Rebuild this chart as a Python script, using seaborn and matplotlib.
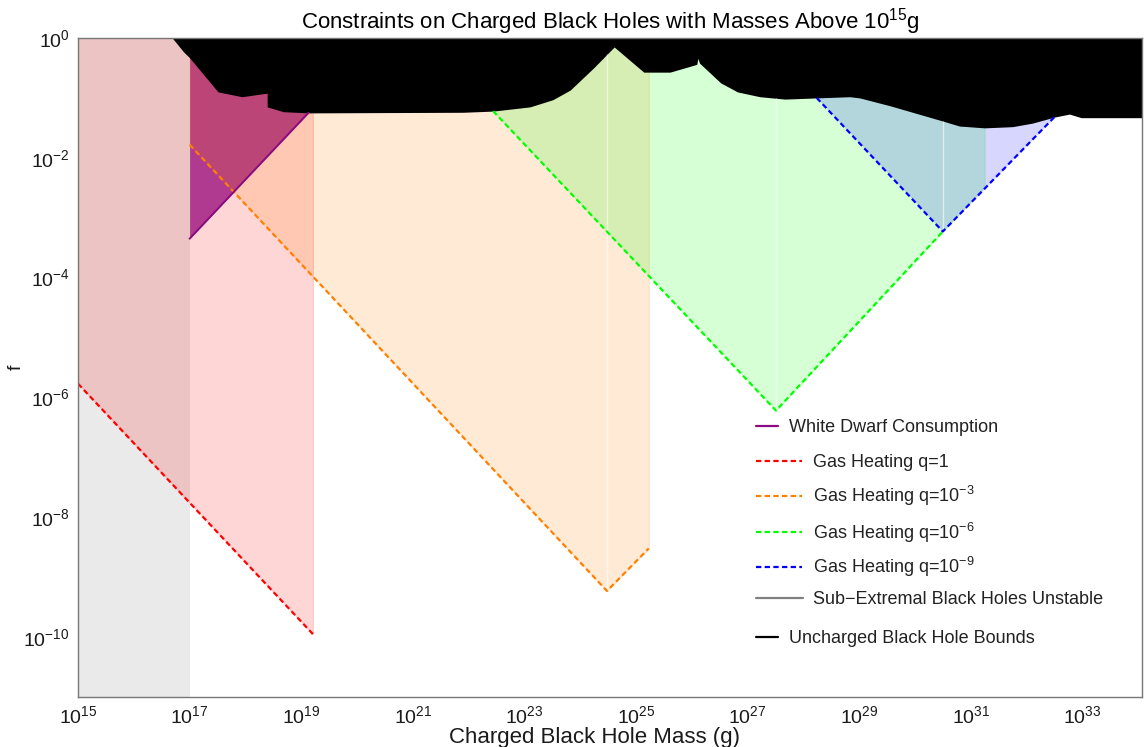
import numpy as np
import pandas as pd
import matplotlib
matplotlib.use("Agg")
import matplotlib.pyplot as plt
import seaborn as sns
from matplotlib.lines import Line2D
from matplotlib.ticker import FixedLocator, NullLocator

# ---------------- data (log10 values) ----------------
x_range_log = [15.0, 34.07]
y_range_log = [-11.0, 0.0]
x_tick_exp = list(range(15, 34, 2))
y_tick_exp = list(range(-10, 1, 2))

# sub-extremal black holes unstable (grey band)
unstable_logM = [15.0, 17.0]

# uncharged black hole bounds (black, filled to f = 1)
bound_logM = [16.69, 16.89, 17.00, 17.51, 17.94, 18.39, 18.39, 18.68, 19.13,
              21.90, 22.44, 23.10, 23.51, 23.82, 24.24, 24.61, 25.14, 25.61,
              26.09, 26.11, 26.14, 26.52, 26.82, 27.22, 27.67, 28.24, 28.83,
              29.01, 29.55, 30.44, 30.80, 31.25, 31.75, 32.11, 32.50, 32.77,
              32.98, 34.07]
bound_logf = [0.00, -0.23, -0.33, -0.90, -0.98, -0.92, -1.15, -1.23, -1.25,
              -1.24, -1.22, -1.15, -1.03, -0.87, -0.50, -0.15, -0.57, -0.57,
              -0.44, -0.34, -0.42, -0.75, -0.90, -0.98, -1.02, -1.00, -0.98,
              -1.00, -1.13, -1.37, -1.47, -1.50, -1.48, -1.42, -1.32, -1.27,
              -1.33, -1.33]

# white dwarf consumption (lower edge)
wd_logM = [17.00, 19.13]
wd_logf = [-3.35, -1.25]

# gas heating constraints
q1_logM = [15.00, 19.21]
q1_logf = [-5.77, -9.95]
q3_logM = [17.00, 24.48, 25.23]
q3_logf = [-1.78, -9.23, -8.52]
q6_logM = [22.44, 27.51, 31.25]
q6_logf = [-1.22, -6.22, -2.48]
q9_logM = [28.24, 30.50, 32.50]
q9_logf = [-1.00, -3.23, -1.32]

legend_labels = ["White Dwarf Consumption",
                 "Gas Heating q=1",
                 "Gas Heating q=10$^{-3}$",
                 "Gas Heating q=10$^{-6}$",
                 "Gas Heating q=10$^{-9}$",
                 "Sub\u2212Extremal Black Holes Unstable",
                 "Uncharged Black Hole Bounds"]

# ---------------- styling ----------------
sns.set_theme(style="white")
plt.rcParams["font.family"] = ["Liberation Sans", "DejaVu Sans"]
plt.rcParams["mathtext.fontset"] = "custom"
plt.rcParams["mathtext.rm"] = "Liberation Sans"
plt.rcParams["mathtext.it"] = "Liberation Sans:italic"
plt.rcParams["mathtext.bf"] = "Liberation Sans:bold"
plt.rcParams["mathtext.sf"] = "Liberation Sans"

C_RED, C_ORA, C_GRN, C_BLU = "#FF0000", "#FF8000", "#00FF00", "#0000FF"
C_GRAY = "#808080"
C_WD_FILL, C_WD_LINE = "#930076", "#8A0A80"
FILL_A = 0.16
DASH = (0, (2.4, 1.5))
LW = 1.6

def p10(v):
    return np.power(10.0, np.asarray(v, dtype=float))

fig = plt.figure(figsize=(11.44, 7.47), dpi=100)
ax = fig.add_axes([78 / 1144, 1 - 697 / 747, 1064 / 1144, 659 / 747])
ax.set_xscale("log")
ax.set_yscale("log")
ymin, ymax = p10(y_range_log)

# grey: sub-extremal unstable
ax.fill_between(p10(unstable_logM), ymin, ymax, color=C_GRAY, alpha=FILL_A, lw=0)

# red fill (q = 1)
ax.fill_between(p10(q1_logM), p10(q1_logf), ymax, facecolor=C_RED, edgecolor=C_RED,
                alpha=FILL_A, lw=0.8)
# white dwarf
ax.fill_between(p10(wd_logM), p10(wd_logf), ymax, color=C_WD_FILL, alpha=0.73, lw=0)
# orange fill
ax.fill_between(p10(q3_logM), p10(q3_logf), ymax, facecolor=C_ORA, edgecolor=C_ORA,
                alpha=FILL_A, lw=0.8)
# green fill
ax.fill_between(p10(q6_logM), p10(q6_logf), ymax, facecolor=C_GRN, edgecolor=C_GRN,
                alpha=FILL_A, lw=0.8)
# blue fill
ax.fill_between(p10(q9_logM), p10(q9_logf), ymax, facecolor=C_BLU, edgecolor=C_BLU,
                alpha=FILL_A, lw=0.0)

# faint seams at the V vertices (as in the original rendering)
for lm, lf in [(q3_logM, q3_logf), (q6_logM, q6_logf), (q9_logM, q9_logf)]:
    xv = lm[1]
    top = np.interp(xv, bound_logM, bound_logf)
    ax.vlines(p10(xv), p10(lf[1]), p10(top), color="white", alpha=0.6, lw=1.0)

# uncharged black hole bounds
ax.fill_between(p10(bound_logM), p10(bound_logf), ymax, color="black", lw=0)

# dashed gas-heating lines via seaborn
q6_draw_M = [q6_logM[0], q6_logM[1], q9_logM[1]]
q6_draw_f = [q6_logf[0], q6_logf[1], float(np.interp(q9_logM[1], q6_logM[1:], q6_logf[1:]))]
lines = [(q1_logM, q1_logf, C_RED), (q3_logM, q3_logf, C_ORA),
         (q6_draw_M, q6_draw_f, C_GRN), (q9_logM, q9_logf, C_BLU)]
for lm, lf, col in lines:
    df = pd.DataFrame({"M": p10(lm), "f": p10(lf)})
    sns.lineplot(data=df, x="M", y="f", ax=ax, color=col, linewidth=LW,
                 linestyle=DASH, sort=False, estimator=None)

# white dwarf edge
df_wd = pd.DataFrame({"M": p10(wd_logM), "f": p10(wd_logf)})
sns.lineplot(data=df_wd, x="M", y="f", ax=ax, color=C_WD_LINE, linewidth=1.4,
             sort=False, estimator=None)

# axes
ax.set_xlim(p10(x_range_log))
ax.set_ylim(ymin, ymax)
ax.xaxis.set_major_locator(FixedLocator(p10(x_tick_exp)))
ax.yaxis.set_major_locator(FixedLocator(p10(y_tick_exp)))
ax.xaxis.set_minor_locator(NullLocator())
ax.yaxis.set_minor_locator(NullLocator())
ax.tick_params(direction="in", length=4, width=1, color="#888888",
               labelcolor="#1a1a1a", labelsize=14, pad=6)
for s in ax.spines.values():
    s.set_color("#777777")
    s.set_linewidth(1.0)
ax.set_xlabel("Charged Black Hole Mass (g)", fontsize=16, color="#1a1a1a")
ax.xaxis.set_label_coords(0.485, -0.0455)
ax.set_ylabel("f", fontsize=14, color="#1a1a1a")
ax.yaxis.set_label_coords(-0.050, 0.5)
ax.set_title("Constraints on Charged Black Holes with Masses Above 10$^{15}$g",
             fontsize=16, color="black", pad=7)

# manual legend (axes fractions)
rows_y = [0.411, 0.358, 0.305, 0.250, 0.197, 0.150, 0.091]
specs = [(C_WD_LINE, "-", 0.658, 0.668),
         (C_RED, DASH, 0.680, 0.691),
         (C_ORA, DASH, 0.680, 0.691),
         (C_GRN, DASH, 0.680, 0.691),
         (C_BLU, DASH, 0.680, 0.691),
         (C_GRAY, "-", 0.681, 0.691),
         ("black", "-", 0.658, 0.668)]
for (col, ls, xend, xtxt), yy, lab in zip(specs, rows_y, legend_labels):
    ax.add_line(Line2D([0.637, xend], [yy, yy], transform=ax.transAxes, color=col,
                       linestyle=ls, linewidth=LW))
    ax.text(xtxt, yy - 0.0095, lab, transform=ax.transAxes, fontsize=13, color="#222222",
            va="baseline", ha="left")

fig.savefig("out.png", dpi=100)
